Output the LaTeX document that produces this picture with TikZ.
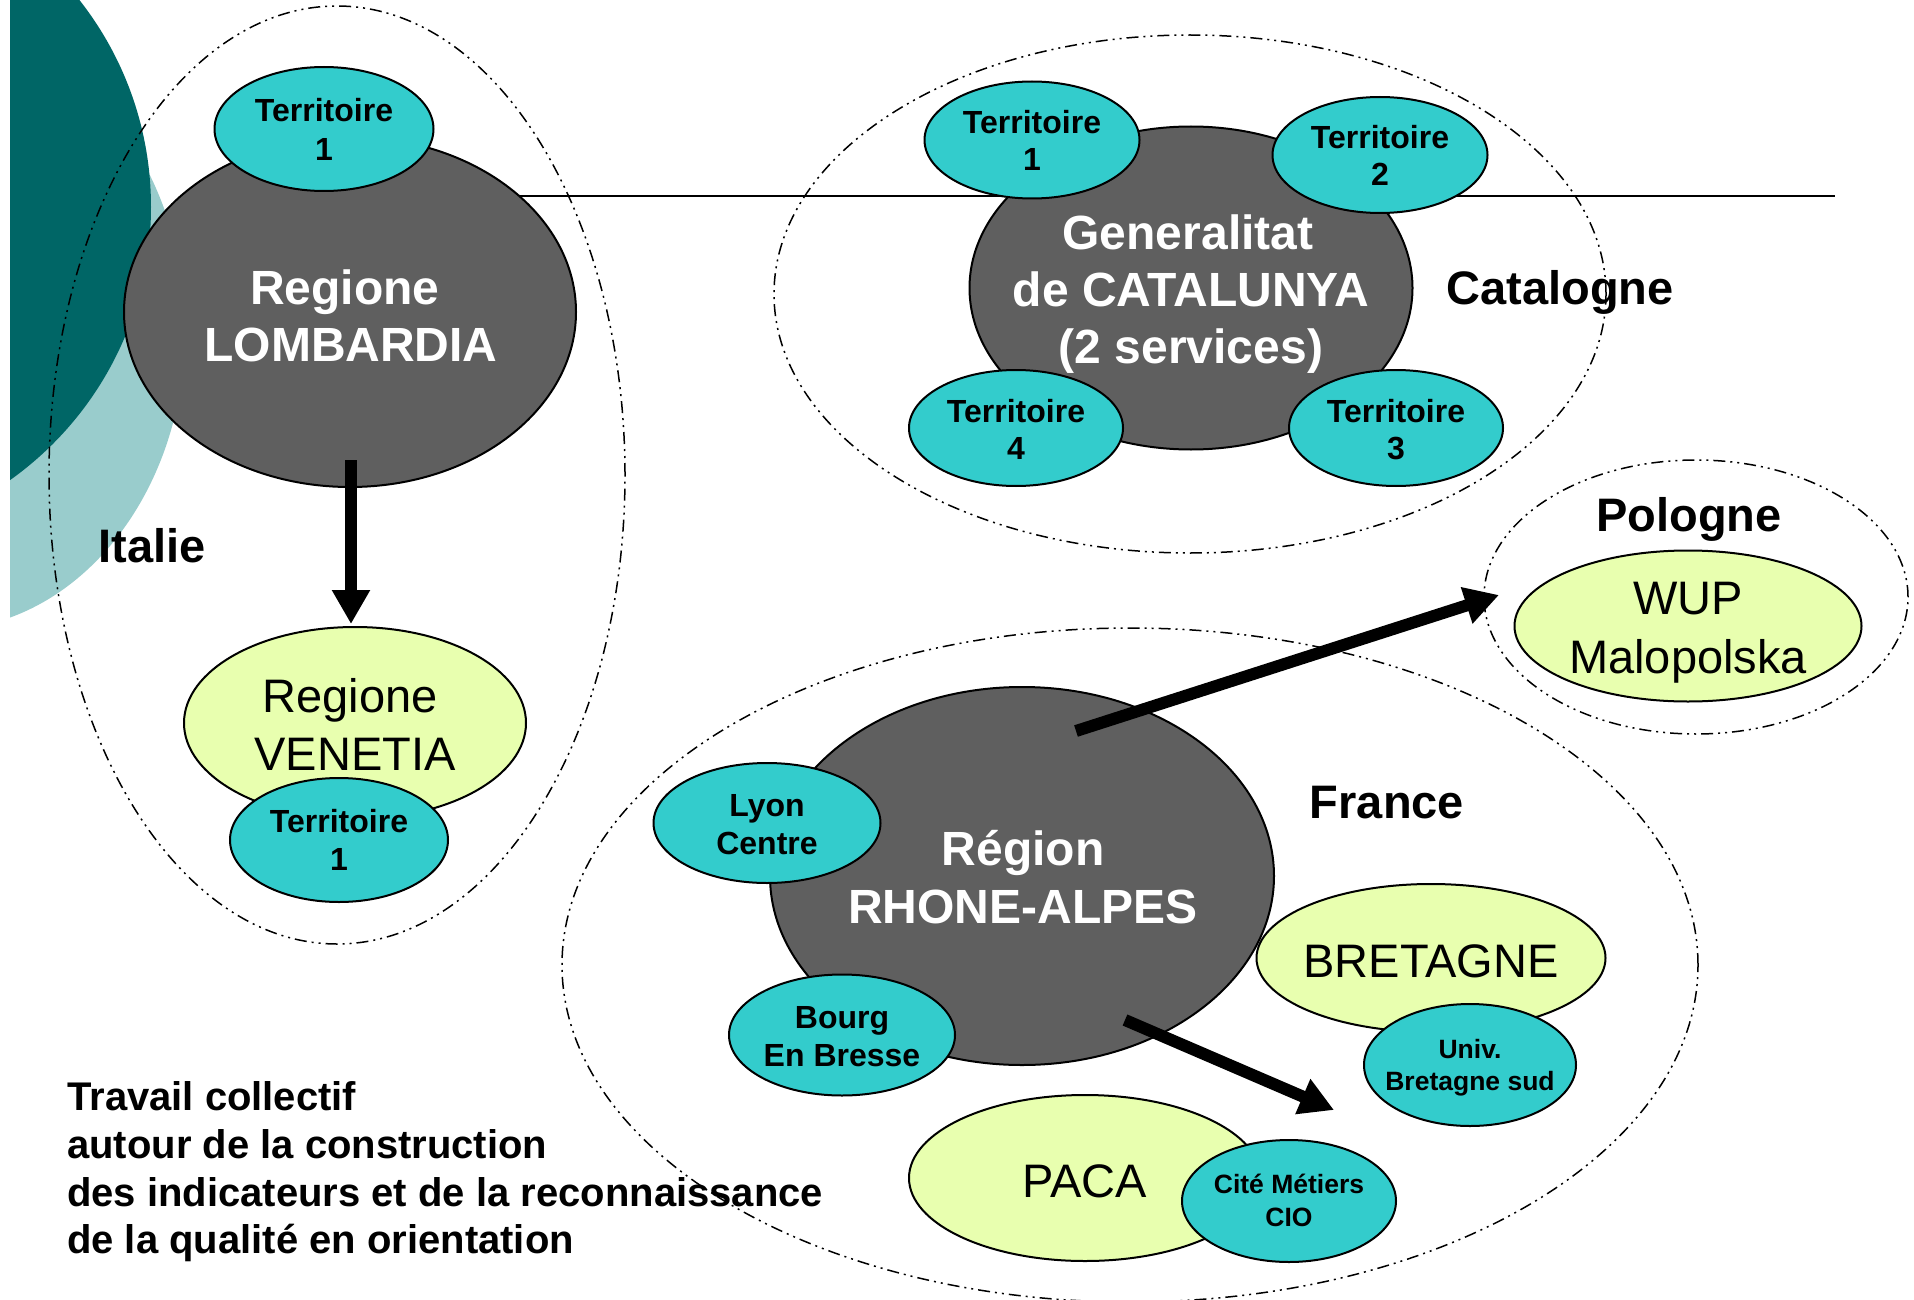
\documentclass[tikz,border=0pt]{standalone}
\usepackage{fontspec}
\setmainfont{Liberation Sans}
\usetikzlibrary{shapes.geometric,arrows.meta}
\definecolor{dkgray}{HTML}{5F5F5F}
\definecolor{terrcol}{HTML}{33CCCC}
\definecolor{ylwcol}{HTML}{E8FFAF}
\definecolor{dkteal}{HTML}{006666}
\definecolor{ltteal}{HTML}{99CCCC}
\tikzset{
  shapebase/.style={ellipse, draw=black, line width=2pt, inner sep=0pt},
  greyreg/.style={shapebase, fill=dkgray},
  terrreg/.style={shapebase, fill=terrcol},
  ylwreg/.style={shapebase, fill=ylwcol},
  country/.style={ellipse, draw=black, line width=1.5pt, dash pattern=on 12pt off 5pt on 2pt off 5pt on 2pt off 5pt, inner sep=0pt},
  whitetxt/.style={text=white, font=\bfseries\fontsize{48}{56}\selectfont, anchor=base, inner sep=0pt},
  terrtxt/.style={font=\bfseries\fontsize{32}{38}\selectfont, anchor=base, inner sep=0pt},
  smalltxt/.style={font=\bfseries\fontsize{26.5}{32}\selectfont, anchor=base, inner sep=0pt},
  plaintxt/.style={font=\fontsize{47}{56}\selectfont, anchor=base, inner sep=0pt},
  grouplbl/.style={font=\bfseries\fontsize{47}{56}\selectfont, anchor=base, inner sep=0pt},
  notetxt/.style={font=\bfseries\fontsize{40}{48}\selectfont, anchor=base west, inner sep=0pt},
  bigarrow/.style={line width=12pt, -{Triangle[length=34pt,width=36pt]}},
}
\begin{document}
\begin{tikzpicture}[x=1pt,y=-1pt]
\useasboundingbox (0,0) rectangle (1914,1300);
\fill[white] (0,0) rectangle (1914,1300);

% background circles
\begin{scope}
  \clip (10,0) rectangle (1914,1300);
  \fill[ltteal] (-60,330) ellipse [x radius=245pt, y radius=300pt];
  \fill[dkteal] (-184,207) circle [radius=335pt];
\end{scope}

% horizontal line
\coordinate (lineend) at (1835,196);
\coordinate (linestart) at (350,196);
\draw[line width=2.5pt] (linestart) -- (lineend);

% country outlines
\node[country, minimum width=576pt, minimum height=938pt] (italy) at (337,475) {};
\node[country, minimum width=832pt, minimum height=518pt] (catal) at (1190,294) {};
\node[country, minimum width=424pt, minimum height=274pt] (poland) at (1696,597) {};
\node[country, minimum width=1136pt, minimum height=674pt] (france) at (1130,965) {};

% group labels
\node[grouplbl] (lblIt) at (152,562) {Italie};
\node[grouplbl] (lblCat) at (1560,304) {Catalogne};
\node[grouplbl] (lblPl) at (1689,531) {Pologne};
\node[grouplbl] (lblFr) at (1387,818) {France};

% Italy
\node[greyreg, minimum width=452pt, minimum height=350pt] (lomb) at (350,312) {};
\node[whitetxt] (lombA) at (345,304) {Regione};
\node[whitetxt] (lombB) at (351,361) {LOMBARDIA};
\node[terrreg, minimum width=219pt, minimum height=124pt] (itT) at (324,129) {};
\node[terrtxt] (itTa) at (324,122) {Territoire};
\node[terrtxt] (itTb) at (324,161) {1};

\node[ylwreg, minimum width=342pt, minimum height=192pt] (ven) at (355,723) {};
\node[plaintxt] (venA) at (350,712) {Regione};
\node[plaintxt] (venB) at (355,770) {VENETIA};
\node[terrreg, minimum width=218pt, minimum height=124pt] (venT) at (339,840) {};
\node[terrtxt] (venTa) at (339,832) {Territoire};
\node[terrtxt] (venTb) at (339,870) {1};

% Catalonia
\node[greyreg, minimum width=443pt, minimum height=323pt] (gen) at (1191,288) {};
\node[whitetxt] (genA) at (1188,249) {Generalitat};
\node[whitetxt] (genB) at (1191,306) {de CATALUNYA};
\node[whitetxt] (genC) at (1191,363) {(2 services)};
\node[terrreg, minimum width=215pt, minimum height=117pt] (catT1) at (1032,140) {};
\node[terrtxt] (catT1a) at (1032,134) {Territoire};
\node[terrtxt] (catT1b) at (1032,171) {1};
\node[terrreg, minimum width=215pt, minimum height=116pt] (catT2) at (1380,155) {};
\node[terrtxt] (catT2a) at (1380,149) {Territoire};
\node[terrtxt] (catT2b) at (1380,186) {2};
\node[terrreg, minimum width=214pt, minimum height=116pt] (catT3) at (1396,428) {};
\node[terrtxt] (catT3a) at (1396,422) {Territoire};
\node[terrtxt] (catT3b) at (1396,459) {3};
\node[terrreg, minimum width=214pt, minimum height=116pt] (catT4) at (1016,428) {};
\node[terrtxt] (catT4a) at (1016,422) {Territoire};
\node[terrtxt] (catT4b) at (1016,459) {4};

% Poland
\node[ylwreg, minimum width=347pt, minimum height=151pt] (wup) at (1688,626) {};
\node[plaintxt] (wupA) at (1688,614) {WUP};
\node[plaintxt] (wupB) at (1688,673) {Malopolska};

% France
\node[greyreg, minimum width=504pt, minimum height=378pt] (rra) at (1022,876) {};
\node[whitetxt] (rraA) at (1023,865) {Région};
\node[whitetxt] (rraB) at (1023,923) {RHONE-ALPES};
\node[terrreg, minimum width=227pt, minimum height=120pt] (lyon) at (767,823) {};
\node[terrtxt] (lyonA) at (767,816) {Lyon};
\node[terrtxt] (lyonB) at (767,854) {Centre};
\node[terrreg, minimum width=226pt, minimum height=121pt] (bourg) at (842,1035) {};
\node[terrtxt] (bourgA) at (842,1028) {Bourg};
\node[terrtxt] (bourgB) at (842,1066) {En Bresse};

\node[ylwreg, minimum width=349pt, minimum height=148pt] (bret) at (1431,958) {};
\node[plaintxt] (bretA) at (1431,977) {BRETAGNE};
\node[terrreg, minimum width=212pt, minimum height=122pt] (ubs) at (1470,1065) {};
\node[smalltxt] (ubsA) at (1470,1058) {Univ.};
\node[smalltxt] (ubsB) at (1470,1090) {Bretagne sud};

\node[ylwreg, minimum width=352pt, minimum height=166pt] (paca) at (1085,1178) {};
\node[plaintxt] (pacaA) at (1085,1197) {PACA};
\node[terrreg, minimum width=214pt, minimum height=122pt] (cite) at (1289,1201) {};
\node[smalltxt] (citeA) at (1289,1193) {Cité Métiers};
\node[smalltxt] (citeB) at (1289,1226) {CIO};

% arrows
\coordinate (arA1) at (351,460);
\coordinate (arA2) at (351,624);
\coordinate (arB1) at (1076,731);
\coordinate (arB2) at (1499,595);
\coordinate (arC1) at (1125,1020);
\coordinate (arC2) at (1334,1110);
\draw[bigarrow] (arA1) -- (arA2);
\draw[bigarrow] (arB1) -- (arB2);
\draw[bigarrow] (arC1) -- (arC2);

% note
\node[notetxt] (note1) at (67,1110) {Travail collectif};
\node[notetxt] (note2) at (67,1158) {autour de la construction};
\node[notetxt] (note3) at (67,1206) {des indicateurs et de la reconnaissance};
\node[notetxt] (note4) at (67,1253) {de la qualité en orientation};
\end{tikzpicture}
\end{document}
